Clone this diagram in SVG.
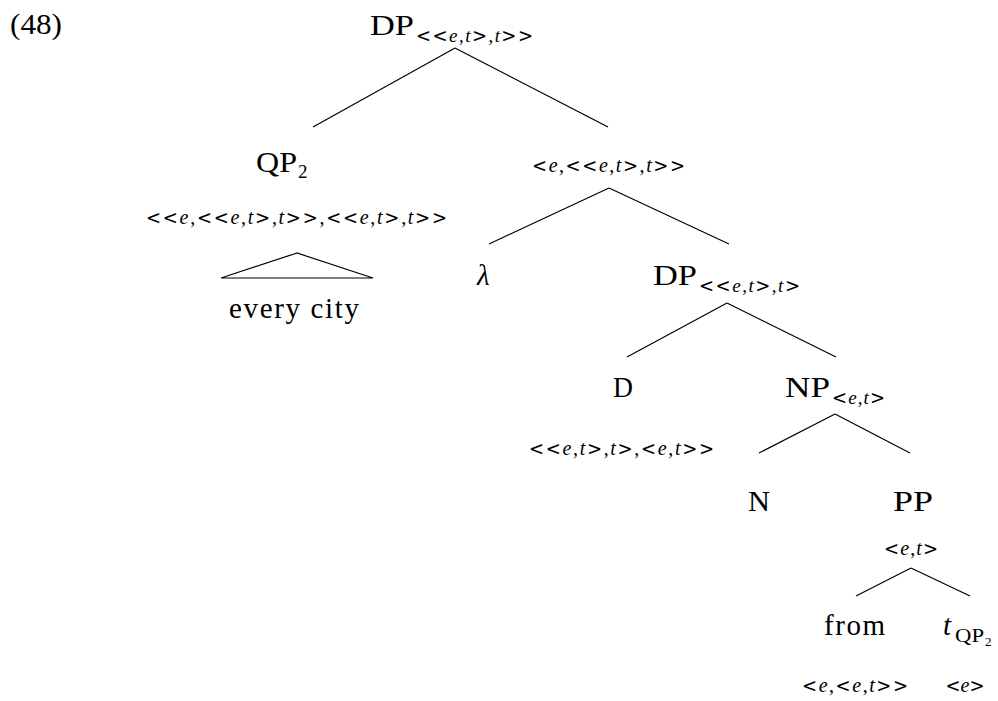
<svg xmlns="http://www.w3.org/2000/svg" width="998" height="701" viewBox="0 0 998 701">
<style>
text{font-family:"Liberation Serif","DejaVu Serif",serif;fill:#000}
.m{font-size:29px}
.s{font-size:19px}
.ty{font-size:20px}
.c{text-anchor:middle}
.i{font-style:italic}
.b{font-family:"DejaVu Serif",serif;font-size:18px}
line,polygon{stroke:#000;stroke-width:1.2;fill:none}
</style>
<rect width="998" height="701" fill="#fff"/>
<text class="m" x="10" y="34" textLength="52" lengthAdjust="spacingAndGlyphs">(48)</text>
<g id="connectors">
<line x1="455" y1="48" x2="313" y2="127"/>
<line x1="455" y1="48" x2="608" y2="127"/>
<line x1="609" y1="188" x2="489" y2="244"/>
<line x1="609" y1="188" x2="729" y2="244"/>
<line x1="727" y1="303" x2="627" y2="357"/>
<line x1="727" y1="303" x2="836" y2="357"/>
<line x1="835" y1="414" x2="759" y2="453"/>
<line x1="835" y1="414" x2="910" y2="453"/>
<line x1="911" y1="568" x2="856" y2="596"/>
<line x1="911" y1="568" x2="970" y2="596"/>
</g>
<g id="dp-top">
<text class="m" x="370" y="35" textLength="44" lengthAdjust="spacingAndGlyphs">DP</text>
<text class="s" x="416" y="42" textLength="117" lengthAdjust="spacing"><tspan class="b">&lt;&lt;</tspan><tspan class="i">e</tspan>,<tspan class="i">t</tspan><tspan class="b">&gt;</tspan>,<tspan class="i">t</tspan><tspan class="b">&gt;&gt;</tspan></text>
</g>
<g id="qp2">
<text class="m" x="256" y="172" textLength="41" lengthAdjust="spacingAndGlyphs">QP</text>
<text class="s" x="298" y="178">2</text>
<text class="ty" x="146" y="224" textLength="301" lengthAdjust="spacing"><tspan class="b">&lt;&lt;</tspan><tspan class="i">e</tspan>,<tspan class="b">&lt;&lt;</tspan><tspan class="i">e</tspan>,<tspan class="i">t</tspan><tspan class="b">&gt;</tspan>,<tspan class="i">t</tspan><tspan class="b">&gt;&gt;</tspan>,<tspan class="b">&lt;&lt;</tspan><tspan class="i">e</tspan>,<tspan class="i">t</tspan><tspan class="b">&gt;</tspan>,<tspan class="i">t</tspan><tspan class="b">&gt;&gt;</tspan></text>
<polygon points="297,253 221,278 373,278"/>
<text class="m" x="229" y="318" textLength="130" lengthAdjust="spacing">every city</text>
</g>
<g id="lambda-node">
<text class="ty" x="532" y="172" textLength="153" lengthAdjust="spacing"><tspan class="b">&lt;</tspan><tspan class="i">e</tspan>,<tspan class="b">&lt;&lt;</tspan><tspan class="i">e</tspan>,<tspan class="i">t</tspan><tspan class="b">&gt;</tspan>,<tspan class="i">t</tspan><tspan class="b">&gt;&gt;</tspan></text>
</g>
<g id="lambda">
<text class="m i" x="477" y="285">λ</text>
</g>
<g id="dp-mid">
<text class="m" x="653" y="285" textLength="44" lengthAdjust="spacingAndGlyphs">DP</text>
<text class="s" x="699" y="292" textLength="101" lengthAdjust="spacing"><tspan class="b">&lt;&lt;</tspan><tspan class="i">e</tspan>,<tspan class="i">t</tspan><tspan class="b">&gt;</tspan>,<tspan class="i">t</tspan><tspan class="b">&gt;</tspan></text>
</g>
<g id="d">
<text class="m" x="613" y="397" textLength="20" lengthAdjust="spacingAndGlyphs">D</text>
<text class="ty" x="529" y="455" textLength="185" lengthAdjust="spacing"><tspan class="b">&lt;&lt;</tspan><tspan class="i">e</tspan>,<tspan class="i">t</tspan><tspan class="b">&gt;</tspan>,<tspan class="i">t</tspan><tspan class="b">&gt;</tspan>,<tspan class="b">&lt;</tspan><tspan class="i">e</tspan>,<tspan class="i">t</tspan><tspan class="b">&gt;&gt;</tspan></text>
</g>
<g id="np">
<text class="m" x="785" y="397" textLength="45" lengthAdjust="spacingAndGlyphs">NP</text>
<text class="s" x="832" y="404" textLength="53" lengthAdjust="spacing"><tspan class="b">&lt;</tspan><tspan class="i">e</tspan>,<tspan class="i">t</tspan><tspan class="b">&gt;</tspan></text>
</g>
<g id="n">
<text class="m" x="748" y="511" textLength="22" lengthAdjust="spacingAndGlyphs">N</text>
</g>
<g id="pp">
<text class="m" x="893" y="511" textLength="40" lengthAdjust="spacingAndGlyphs">PP</text>
<text class="ty" x="884" y="555" textLength="54" lengthAdjust="spacing"><tspan class="b">&lt;</tspan><tspan class="i">e</tspan>,<tspan class="i">t</tspan><tspan class="b">&gt;</tspan></text>
</g>
<g id="from">
<text class="m" x="824" y="635" textLength="61" lengthAdjust="spacing">from</text>
<text class="ty" x="802" y="692" textLength="106" lengthAdjust="spacing"><tspan class="b">&lt;</tspan><tspan class="i">e</tspan>,<tspan class="b">&lt;</tspan><tspan class="i">e</tspan>,<tspan class="i">t</tspan><tspan class="b">&gt;&gt;</tspan></text>
</g>
<g id="trace">
<text class="m i" x="943" y="635">t</text>
<text class="s" x="955" y="642" textLength="29" lengthAdjust="spacingAndGlyphs">QP</text>
<text style="font-size:13px" x="985" y="646">2</text>
<text class="ty c" x="965" y="692"><tspan class="b">&lt;</tspan><tspan class="i">e</tspan><tspan class="b">&gt;</tspan></text>
</g>
</svg>
